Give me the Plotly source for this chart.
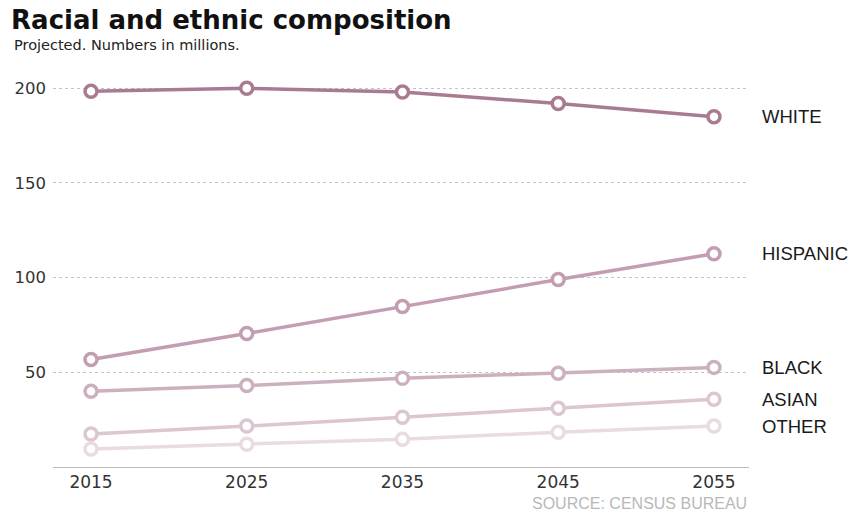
import plotly.graph_objects as go

years = [2015, 2025, 2035, 2045, 2055]
white = [198.4, 200.0, 198.0, 192.0, 185.0]
hispanic = [56.8, 70.5, 84.7, 99.0, 112.6]
black = [40.0, 43.0, 46.8, 49.5, 52.6]
asian = [17.4, 21.6, 26.3, 31.0, 35.8]
other = [9.5, 12.0, 14.7, 18.4, 21.6]

series_names = ["WHITE", "HISPANIC", "BLACK", "ASIAN", "OTHER"]
series_values = [white, hispanic, black, asian, other]
colors = ["#a97b93", "#c39db1", "#ccb0bf", "#dcc6d1", "#e9dbe2"]
y_ticks = [50, 100, 150, 200]
x_ticks = years

SANS = "Liberation Sans, Arial, sans-serif"
WIDE = "DejaVu Sans, sans-serif"

fig = go.Figure()
for name, vals, col in zip(series_names, series_values, colors):
    fig.add_trace(go.Scatter(
        x=years, y=vals, mode="lines+markers", name=name,
        line=dict(color=col, width=3.5),
        marker=dict(size=12, color="white", line=dict(color=col, width=3.5)),
        showlegend=False, cliponaxis=False,
    ))
    fig.add_annotation(x=1.0, xref="paper", xshift=11, y=vals[-1], yref="y",
                       text=name, showarrow=False, xanchor="left",
                       font=dict(size=18.5, color="#1a1a1a", family=SANS))

fig.update_layout(
    width=853, height=515,
    margin=dict(l=53, r=104, t=75, b=48),
    paper_bgcolor="white", plot_bgcolor="white",
    font=dict(family=WIDE, color="#333", size=16),
    title=dict(text="<b>Racial and ethnic composition</b>", x=0.013, xanchor="left",
               y=0.962, yanchor="middle",
               font=dict(size=26, color="#111", family=WIDE)),
    xaxis=dict(range=[2012.56, 2057.25], tickvals=x_ticks, showgrid=False, zeroline=False,
               showline=True, linecolor="#bbbbbb", linewidth=1, ticks="",
               tickfont=dict(size=17, color="#333", family=WIDE)),
    yaxis=dict(range=[0, 207], tickvals=y_ticks, showgrid=True, gridcolor="#c4c4c4",
               griddash="dot", gridwidth=1, zeroline=False, showline=False, ticks="",
               ticklabelstandoff=6,
               tickfont=dict(size=16.5, color="#333", family=WIDE)),
)

fig.add_annotation(x=-0.0589, xref="paper", y=1.0, yref="paper", yshift=30,
                   text="Projected. Numbers in millions.", showarrow=False,
                   xanchor="left", yanchor="middle",
                   font=dict(size=14.5, color="#222", family=WIDE))
fig.add_annotation(x=1.0, xref="paper", y=0, yref="paper", yshift=-36,
                   text="SOURCE: CENSUS BUREAU", showarrow=False,
                   xanchor="right", yanchor="middle",
                   font=dict(size=16, color="#b8b8b8", family=SANS))

fig.write_html("out.html")
